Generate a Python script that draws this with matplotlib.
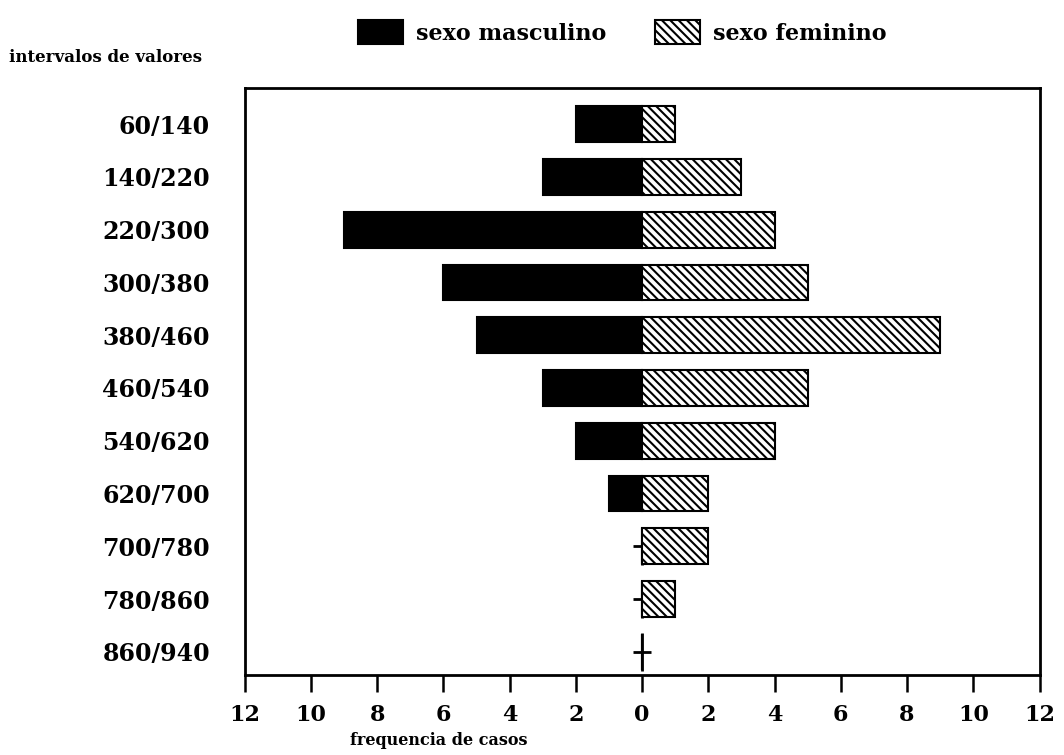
import matplotlib
matplotlib.use('Agg')
import matplotlib.pyplot as plt
import numpy as np

# frequencias por intervalo de valores
intervalos = ["60/140", "140/220", "220/300", "300/380", "380/460", "460/540",
              "540/620", "620/700", "700/780", "780/860", "860/940"]
masculino = [2, 3, 9, 6, 5, 3, 2, 1, 0, 0, 0]
feminino = [1, 3, 4, 5, 9, 5, 4, 2, 2, 1, 0]
ticks = [-12, -10, -8, -6, -4, -2, 0, 2, 4, 6, 8, 10, 12]

plt.rcParams['font.family'] = ['DejaVu Serif']
plt.rcParams['font.weight'] = 'bold'
plt.rcParams['hatch.linewidth'] = 1.5

fig = plt.figure(figsize=(10.64, 7.55), dpi=100)
ax = fig.add_axes([0.230, 0.106, 0.747, 0.777])

y = np.arange(len(intervalos))
m = np.array(masculino)
f = np.array(feminino)

bm = ax.barh(y, -m, height=0.68, color='black', edgecolor='black',
             linewidth=1.5, label='sexo masculino', zorder=2)
bf = ax.barh(y, f, height=0.68, color='white', edgecolor='black',
             hatch='\\\\\\\\', linewidth=1.5, label='sexo feminino', zorder=2)

# intervalos sem casos masculinos marcados com uma cruz no zero
zero = m == 0
ax.plot(np.zeros(zero.sum()), y[zero], '|', color='black',
        markersize=27, markeredgewidth=2, zorder=1)
ax.plot(np.zeros(zero.sum()), y[zero], '_', color='black',
        markersize=13, markeredgewidth=2, zorder=1)

ax.set_xlim(-12, 12)
ax.set_ylim(len(intervalos) - 1 + 0.44, -0.68)
ax.set_xticks(ticks)
ax.set_xticklabels([str(abs(t)) for t in ticks], fontsize=16, fontweight='bold')
ax.set_yticks(y)
ax.set_yticklabels(intervalos, fontsize=17, fontweight='bold')
ax.tick_params(axis='x', direction='out', length=12, width=1.8, pad=9)
ax.tick_params(axis='y', length=0, pad=25)
for s in ax.spines.values():
    s.set_linewidth(2)

fig.text(0.329, 0.013, "frequencia de casos", fontsize=11.5, fontweight='bold')
fig.text(0.008, 0.918, "intervalos de valores", fontsize=12, fontweight='bold')

fig.legend(handles=[bm, bf], loc='upper center', bbox_to_anchor=(0.585, 1.0),
           ncol=2, frameon=False, handlelength=2.0,
           handleheight=1.3, columnspacing=2.2, handletextpad=0.6,
           prop={'weight': 'bold', 'size': 16})

fig.savefig('out.png', dpi=100)
